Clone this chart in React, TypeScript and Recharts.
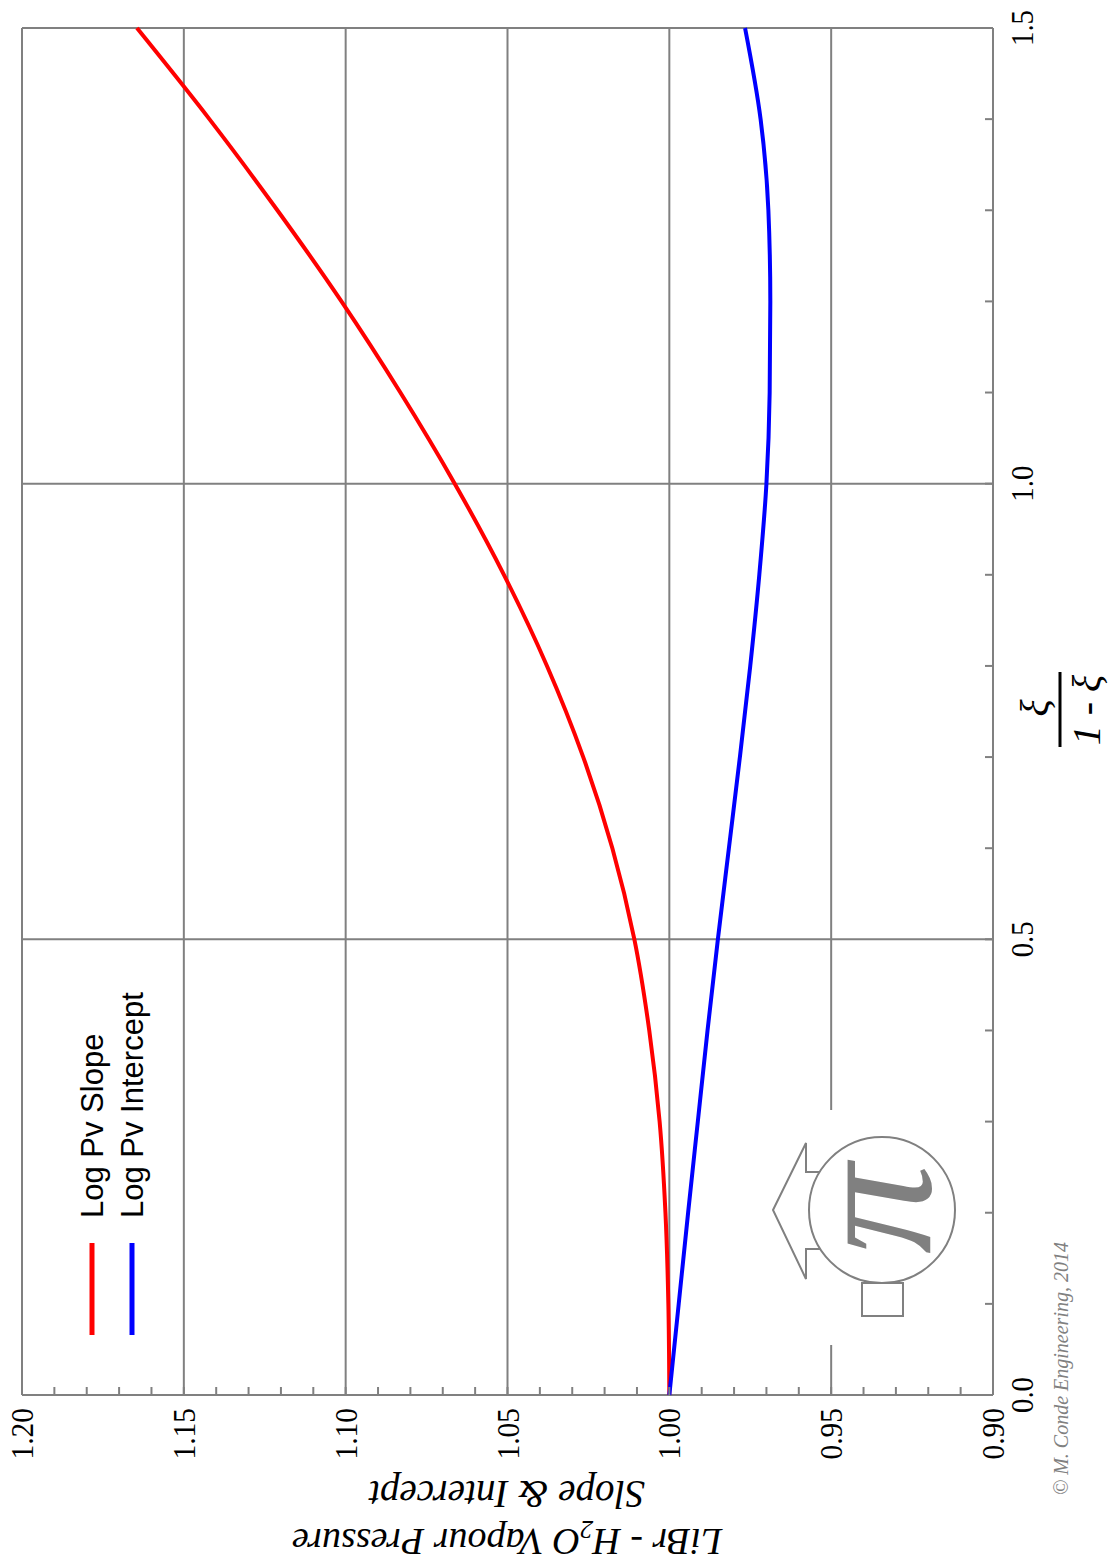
import { LineChart, Line, XAxis, YAxis, ReferenceLine } from 'recharts'

// x = xi / (1 - xi)
const xi = [0, 0.1, 0.2, 0.3, 0.4, 0.5, 0.6, 0.7, 0.8, 0.9, 1.0, 1.1, 1.2, 1.3, 1.4, 1.5]
const slope = [1.0, 1.0003, 1.0012, 1.003, 1.0062, 1.0108, 1.0176, 1.0266, 1.0378, 1.0511, 1.0663, 1.0831, 1.1013, 1.1211, 1.1421, 1.1645]
const intercept = [1.0, 0.9971, 0.9942, 0.9912, 0.9882, 0.985, 0.9816, 0.9782, 0.975, 0.9722, 0.97, 0.969, 0.9688, 0.9694, 0.9718, 0.9766]

const xTicks = [0, 0.1, 0.2, 0.3, 0.4, 0.5, 0.6, 0.7, 0.8, 0.9, 1.0, 1.1, 1.2, 1.3, 1.4, 1.5]
const xLabels = [0, 0.5, 1.0, 1.5]
const yTicks = [
  0.9, 0.91, 0.92, 0.93, 0.94, 0.95, 0.96, 0.97, 0.98, 0.99, 1.0, 1.01, 1.02, 1.03, 1.04, 1.05,
  1.06, 1.07, 1.08, 1.09, 1.1, 1.11, 1.12, 1.13, 1.14, 1.15, 1.16, 1.17, 1.18, 1.19, 1.2,
]
const yLabels = [0.9, 0.95, 1.0, 1.05, 1.1, 1.15, 1.2]
const xGrid = [0, 0.5, 1.0, 1.5]
const yGrid = [0.9, 0.95, 1.0, 1.05, 1.1, 1.15, 1.2]

const series = [
  { key: 'slope', name: 'Log Pv Slope', color: '#ff0000' },
  { key: 'intercept', name: 'Log Pv Intercept', color: '#0000ff' },
]

const data = xi.map((x, i) => ({ x, slope: slope[i], intercept: intercept[i] }))

const GRAY = '#808080'
const SERIF = '"Liberation Serif", "Times New Roman", serif'
const SANS = '"Liberation Sans", Arial, sans-serif'

const isLabel = (list: number[], v: number) => list.some((l) => Math.abs(l - v) < 1e-6)

function XTick(props: any) {
  const { x, y, payload } = props
  const v = payload.value as number
  return (
    <g>
      <line x1={x} y1={y} x2={x} y2={y - 8} stroke={GRAY} strokeWidth={2} />
      {isLabel(xLabels, v) && (
        <text
          transform={`translate(${x},${y + 40}) scale(0.9,1)`}
          textAnchor="middle"
          fontFamily={SERIF}
          fontSize={32}
          fill="#000"
        >
          {v.toFixed(1)}
        </text>
      )}
    </g>
  )
}

function YTick(props: any) {
  const { x, y, payload } = props
  const v = payload.value as number
  return (
    <g>
      <line x1={x} y1={y} x2={x + 8} y2={y} stroke={GRAY} strokeWidth={2} />
      {isLabel(yLabels, v) && (
        <text
          transform={`translate(${x - 13},${y + 11}) scale(0.92,1)`}
          textAnchor="end"
          fontFamily={SERIF}
          fontSize={32}
          fill="#000"
        >
          {v.toFixed(2)}
        </text>
      )}
    </g>
  )
}

function Overlay() {
  return (
    <svg
      width={1565}
      height={1120}
      style={{ position: 'absolute', left: 0, top: 0, pointerEvents: 'none' }}
    >
      {/* y axis title */}
      <text
        x={36}
        y={507}
        transform="rotate(-90 36 507)"
        textAnchor="middle"
        fontFamily={SERIF}
        fontStyle="italic"
        fontSize={38}
      >
        LiBr - H
        <tspan dy={8} fontSize={26}>
          2
        </tspan>
        <tspan dy={-8}>O Vapour Pressure</tspan>
      </text>
      <text
        x={84}
        y={507}
        transform="rotate(-90 84 507)"
        textAnchor="middle"
        fontFamily={SERIF}
        fontStyle="italic"
        fontSize={39}
      >
        Slope &amp; Intercept
      </text>

      {/* x axis title: xi / (1 - xi) */}
      <text x={857} y={1048} textAnchor="middle" fontFamily={SERIF} fontStyle="italic" fontSize={40}>
        ξ
      </text>
      <line x1={818} y1={1060} x2={893} y2={1060} stroke="#000" strokeWidth={3} />
      <text x={855} y={1100} textAnchor="middle" fontFamily={SERIF} fontStyle="italic" fontSize={40}>
        1 - ξ
      </text>

      {/* copyright */}
      <text x={70} y={1068} fontFamily={SERIF} fontStyle="italic" fontSize={20} fill={GRAY}>
        © M. Conde Engineering, 2014
      </text>

      {/* legend */}
      {series.map((s, i) => (
        <g key={s.key}>
          <line x1={230} y1={92 + i * 40} x2={322} y2={92 + i * 40} stroke={s.color} strokeWidth={5} />
          <text x={347} y={103 + i * 40} fontFamily={SANS} fontSize={31} fill="#000">
            {s.name}
          </text>
        </g>
      ))}

      {/* logo */}
      <rect x={220} y={765} width={235} height={210} fill="#fff" />
      <polygon
        points="355,773 422,806 393,806 393,840 316,840 316,806 286,806"
        fill="#fff"
        stroke={GRAY}
        strokeWidth={2}
      />
      <rect x={249} y={862} width={33} height={41} fill="#fff" stroke={GRAY} strokeWidth={2} />
      <circle cx={355} cy={882} r={73} fill="#fff" stroke={GRAY} strokeWidth={2} />
      <text x={356} y={930} textAnchor="middle" fontFamily={SERIF} fontStyle="italic" fontSize={180} fill={GRAY}>
        π
      </text>
    </svg>
  )
}

export default function App() {
  return (
    <div
      style={{
        position: 'absolute',
        left: 0,
        top: 0,
        width: 1120,
        height: 1565,
        overflow: 'hidden',
        background: '#fff',
      }}
    >
      <div
        style={{
          position: 'absolute',
          left: 0,
          top: 0,
          width: 1565,
          height: 1120,
          transformOrigin: '0 0',
          transform: 'translate(0px, 1565px) rotate(-90deg)',
        }}
      >
        <LineChart width={1565} height={1120} data={data} margin={{ top: 22, right: 28, bottom: 87, left: 100 }}>
          <XAxis
            dataKey="x"
            type="number"
            domain={[0, 1.5]}
            ticks={xTicks}
            interval={0}
            height={40}
            axisLine={false}
            tickLine={false}
            tickSize={0}
            tickMargin={0}
            tick={<XTick />}
          />
          <YAxis
            type="number"
            domain={[0.9, 1.2]}
            ticks={yTicks}
            interval={0}
            width={70}
            axisLine={false}
            tickLine={false}
            tickSize={0}
            tickMargin={0}
            tick={<YTick />}
          />
          {xGrid.map((v) => (
            <ReferenceLine key={`gx${v}`} x={v} stroke={GRAY} strokeWidth={2} />
          ))}
          {yGrid.map((v) => (
            <ReferenceLine key={`gy${v}`} y={v} stroke={GRAY} strokeWidth={2} />
          ))}
          {series.map((s) => (
            <Line
              key={s.key}
              dataKey={s.key}
              name={s.name}
              type="monotone"
              stroke={s.color}
              strokeWidth={4}
              dot={false}
              isAnimationActive={false}
            />
          ))}
        </LineChart>
        <Overlay />
      </div>
    </div>
  )
}
